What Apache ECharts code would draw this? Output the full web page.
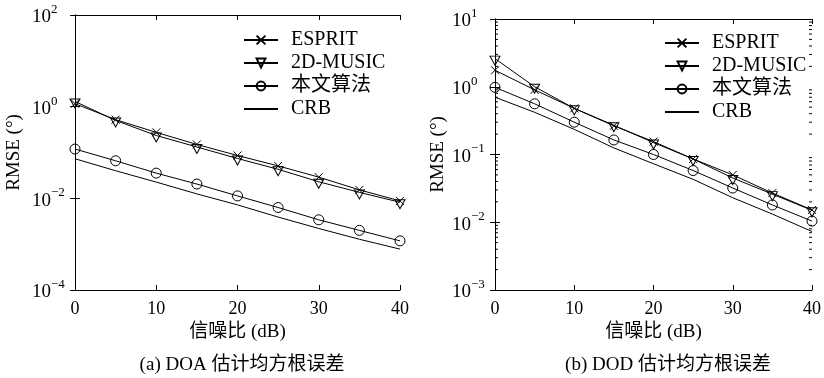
<!DOCTYPE html>
<html>
<head>
<meta charset="utf-8">
<script src="https://cdn.jsdelivr.net/npm/echarts@6/dist/echarts.min.js"></script>
<style>html,body{margin:0;padding:0;background:#fff;}#c{width:824px;height:378px;}</style>
</head>
<body>
<div id="c"></div>
<script>
const snr = [0, 5, 10, 15, 20, 25, 30, 35, 40];
const xTicks = [0, 10, 20, 30, 40];
const seriesNames = ['ESPRIT', '2D-MUSIC', '本文算法', 'CRB'];

// (a) DOA RMSE
const doaEsprit = [1.16, 0.52, 0.275, 0.150, 0.086, 0.051, 0.029, 0.0153, 0.0088];
const doaMusic  = [1.30, 0.50, 0.235, 0.132, 0.074, 0.043, 0.023, 0.0135, 0.0082];
const doaProp   = [0.119, 0.066, 0.0355, 0.0205, 0.0113, 0.0063, 0.0034, 0.0020, 0.00118];
const doaCrb    = [0.073, 0.040, 0.0226, 0.0125, 0.0072, 0.0039, 0.0022, 0.00128, 0.00078];

// (b) DOD RMSE
const dodEsprit = [1.75, 0.90, 0.48, 0.265, 0.155, 0.086, 0.050, 0.027, 0.0152];
const dodMusic  = [2.60, 1.00, 0.48, 0.27, 0.150, 0.086, 0.045, 0.026, 0.0150];
const dodProp   = [0.98, 0.56, 0.30, 0.164, 0.100, 0.058, 0.032, 0.018, 0.0104];
const dodCrb    = [0.70, 0.42, 0.235, 0.125, 0.073, 0.043, 0.023, 0.0132, 0.0073];

const minorTicksB = [];
[0.001, 0.01, 0.1, 1].forEach(function (d) { for (let k = 2; k <= 9; k++) minorTicksB.push(+(d * k).toPrecision(3)); });

const SERIF = "'Liberation Serif', 'Noto Sans CJK SC', serif";
const CROSS = 'path://M0 0L10 10M10 0L0 10';

function pairs(arr) { return snr.map(function (x, i) { return [x, arr[i]]; }); }

function supLabel(v) {
  const e = Math.round(Math.log10(v));
  return '{b|10}{s|' + (e < 0 ? '\u2212' + (-e) : e) + '}';
}
const richLabel = {
  b: { fontFamily: SERIF, fontSize: 19, color: '#000', lineHeight: 24, verticalAlign: 'bottom' },
  s: { fontFamily: SERIF, fontSize: 13, color: '#000', lineHeight: 24, verticalAlign: 'top' }
};

function xAxes(gi) {
  return [
    { type: 'value', gridIndex: gi, position: 'bottom', min: 0, max: 40, interval: 10,
      axisLine: { lineStyle: { color: '#000', width: 1 } },
      axisTick: { inside: true, length: 5, lineStyle: { color: '#000' } },
      axisLabel: { color: '#000', fontFamily: SERIF, fontSize: 18, margin: 10 },
      splitLine: { show: false },
      name: '信噪比 (dB)', nameLocation: 'middle', nameGap: 31,
      nameTextStyle: { color: '#000', fontFamily: SERIF, fontSize: 19 } },
    { type: 'value', gridIndex: gi, position: 'top', min: 0, max: 40, interval: 10,
      axisLine: { lineStyle: { color: '#000', width: 1 } },
      axisTick: { inside: true, length: 5, lineStyle: { color: '#000' } },
      axisLabel: { show: false }, splitLine: { show: false } }
  ];
}
function yAxes(gi, min, max, interval, nameGap) {
  return [
    { type: 'log', logBase: 10, gridIndex: gi, position: 'left', min: min, max: max, interval: interval,
      axisLine: { lineStyle: { color: '#000', width: 1 } },
      axisTick: { inside: true, length: 5, lineStyle: { color: '#000' } },
      axisLabel: { formatter: supLabel, rich: richLabel, align: 'left', margin: 43 },
      splitLine: { show: false }, minorTick: { show: false },
      name: 'RMSE (°)', nameLocation: 'middle', nameGap: nameGap,
      nameTextStyle: { color: '#000', fontFamily: SERIF, fontSize: 19 } },
    { type: 'log', logBase: 10, gridIndex: gi, position: 'right', min: min, max: max, interval: interval,
      axisLine: { lineStyle: { color: '#000', width: 1 } },
      axisTick: { inside: true, length: 5, lineStyle: { color: '#000' } },
      axisLabel: { show: false }, splitLine: { show: false } }
  ];
}

function lineSeries(gi, name, arr) {
  const s = {
    type: 'line', name: name, xAxisIndex: gi * 2, yAxisIndex: gi * 2, data: pairs(arr),
    lineStyle: { color: '#000', width: 1 },
    itemStyle: { color: 'none', borderColor: '#000', borderWidth: 1 },
    emphasis: { disabled: true }, silent: true, z: 3
  };
  if (name === 'ESPRIT') { s.symbol = CROSS; s.symbolSize = 8; }
  else if (name === '2D-MUSIC') { s.symbol = 'triangle'; s.symbolRotate = 180; s.symbolSize = [10, 9]; s.symbolOffset = [0, 2]; }
  else if (name === '本文算法') { s.symbol = 'circle'; s.symbolSize = 10; }
  else { s.symbol = 'none'; s.showSymbol = false; }
  return s;
}

function legend(left, top) {
  return {
    left: left, top: top, orient: 'vertical', itemWidth: 34, itemHeight: 11, itemGap: 3,
    data: [
      { name: 'ESPRIT' },
      { name: '2D-MUSIC' },
      { name: '本文算法' },
      { name: 'CRB', itemStyle: { color: 'none', borderColor: 'none', borderWidth: 0, opacity: 0 } }
    ],
    selectedMode: false,
    textStyle: { color: '#000', fontFamily: SERIF, fontSize: 20, lineHeight: 20, padding: [0, 0, 0, 8] },
    inactiveColor: '#000'
  };
}

const option = {
  animation: false,
  backgroundColor: '#fff',
  grid: [
    { left: 75, top: 15, width: 325, height: 275 },
    { left: 495, top: 19, width: 323, height: 271 }
  ],
  xAxis: xAxes(0).concat(xAxes(1)),
  yAxis: yAxes(0, 1e-4, 100, 2, 51).concat(yAxes(1, 1e-3, 10, 1, 47)),
  legend: [legend(238, 25), legend(659, 28)],
  series: [
    lineSeries(0, 'ESPRIT', doaEsprit),
    lineSeries(0, '2D-MUSIC', doaMusic),
    lineSeries(0, '本文算法', doaProp),
    lineSeries(0, 'CRB', doaCrb),
    lineSeries(1, 'ESPRIT', dodEsprit),
    lineSeries(1, '2D-MUSIC', dodMusic),
    lineSeries(1, '本文算法', dodProp),
    lineSeries(1, 'CRB', dodCrb),
    { type: 'custom', name: 'minor', xAxisIndex: 2, yAxisIndex: 2, silent: true,
      data: minorTicksB.map(function (v) { return [0, v]; }),
      renderItem: function (params, api) {
        const y = api.coord([0, api.value(1)])[1];
        const cs = params.coordSys;
        return { type: 'group', children: [
          { type: 'line', shape: { x1: cs.x, y1: y, x2: cs.x + 3, y2: y }, style: { stroke: '#000', lineWidth: 1 } },
          { type: 'line', shape: { x1: cs.x + cs.width - 3, y1: y, x2: cs.x + cs.width, y2: y }, style: { stroke: '#000', lineWidth: 1 } }
        ] };
      } }
  ],
  graphic: [
    { type: 'text', x: 242, y: 365, style: { text: '(a) DOA 估计均方根误差', align: 'center', verticalAlign: 'middle', fontFamily: SERIF, fontSize: 19, fill: '#000' } },
    { type: 'text', x: 668, y: 365, style: { text: '(b) DOD 估计均方根误差', align: 'center', verticalAlign: 'middle', fontFamily: SERIF, fontSize: 19, fill: '#000' } }
  ]
};

const chart = echarts.init(document.getElementById('c'), null, { renderer: 'canvas' });
chart.setOption(option);
</script>
</body>
</html>
